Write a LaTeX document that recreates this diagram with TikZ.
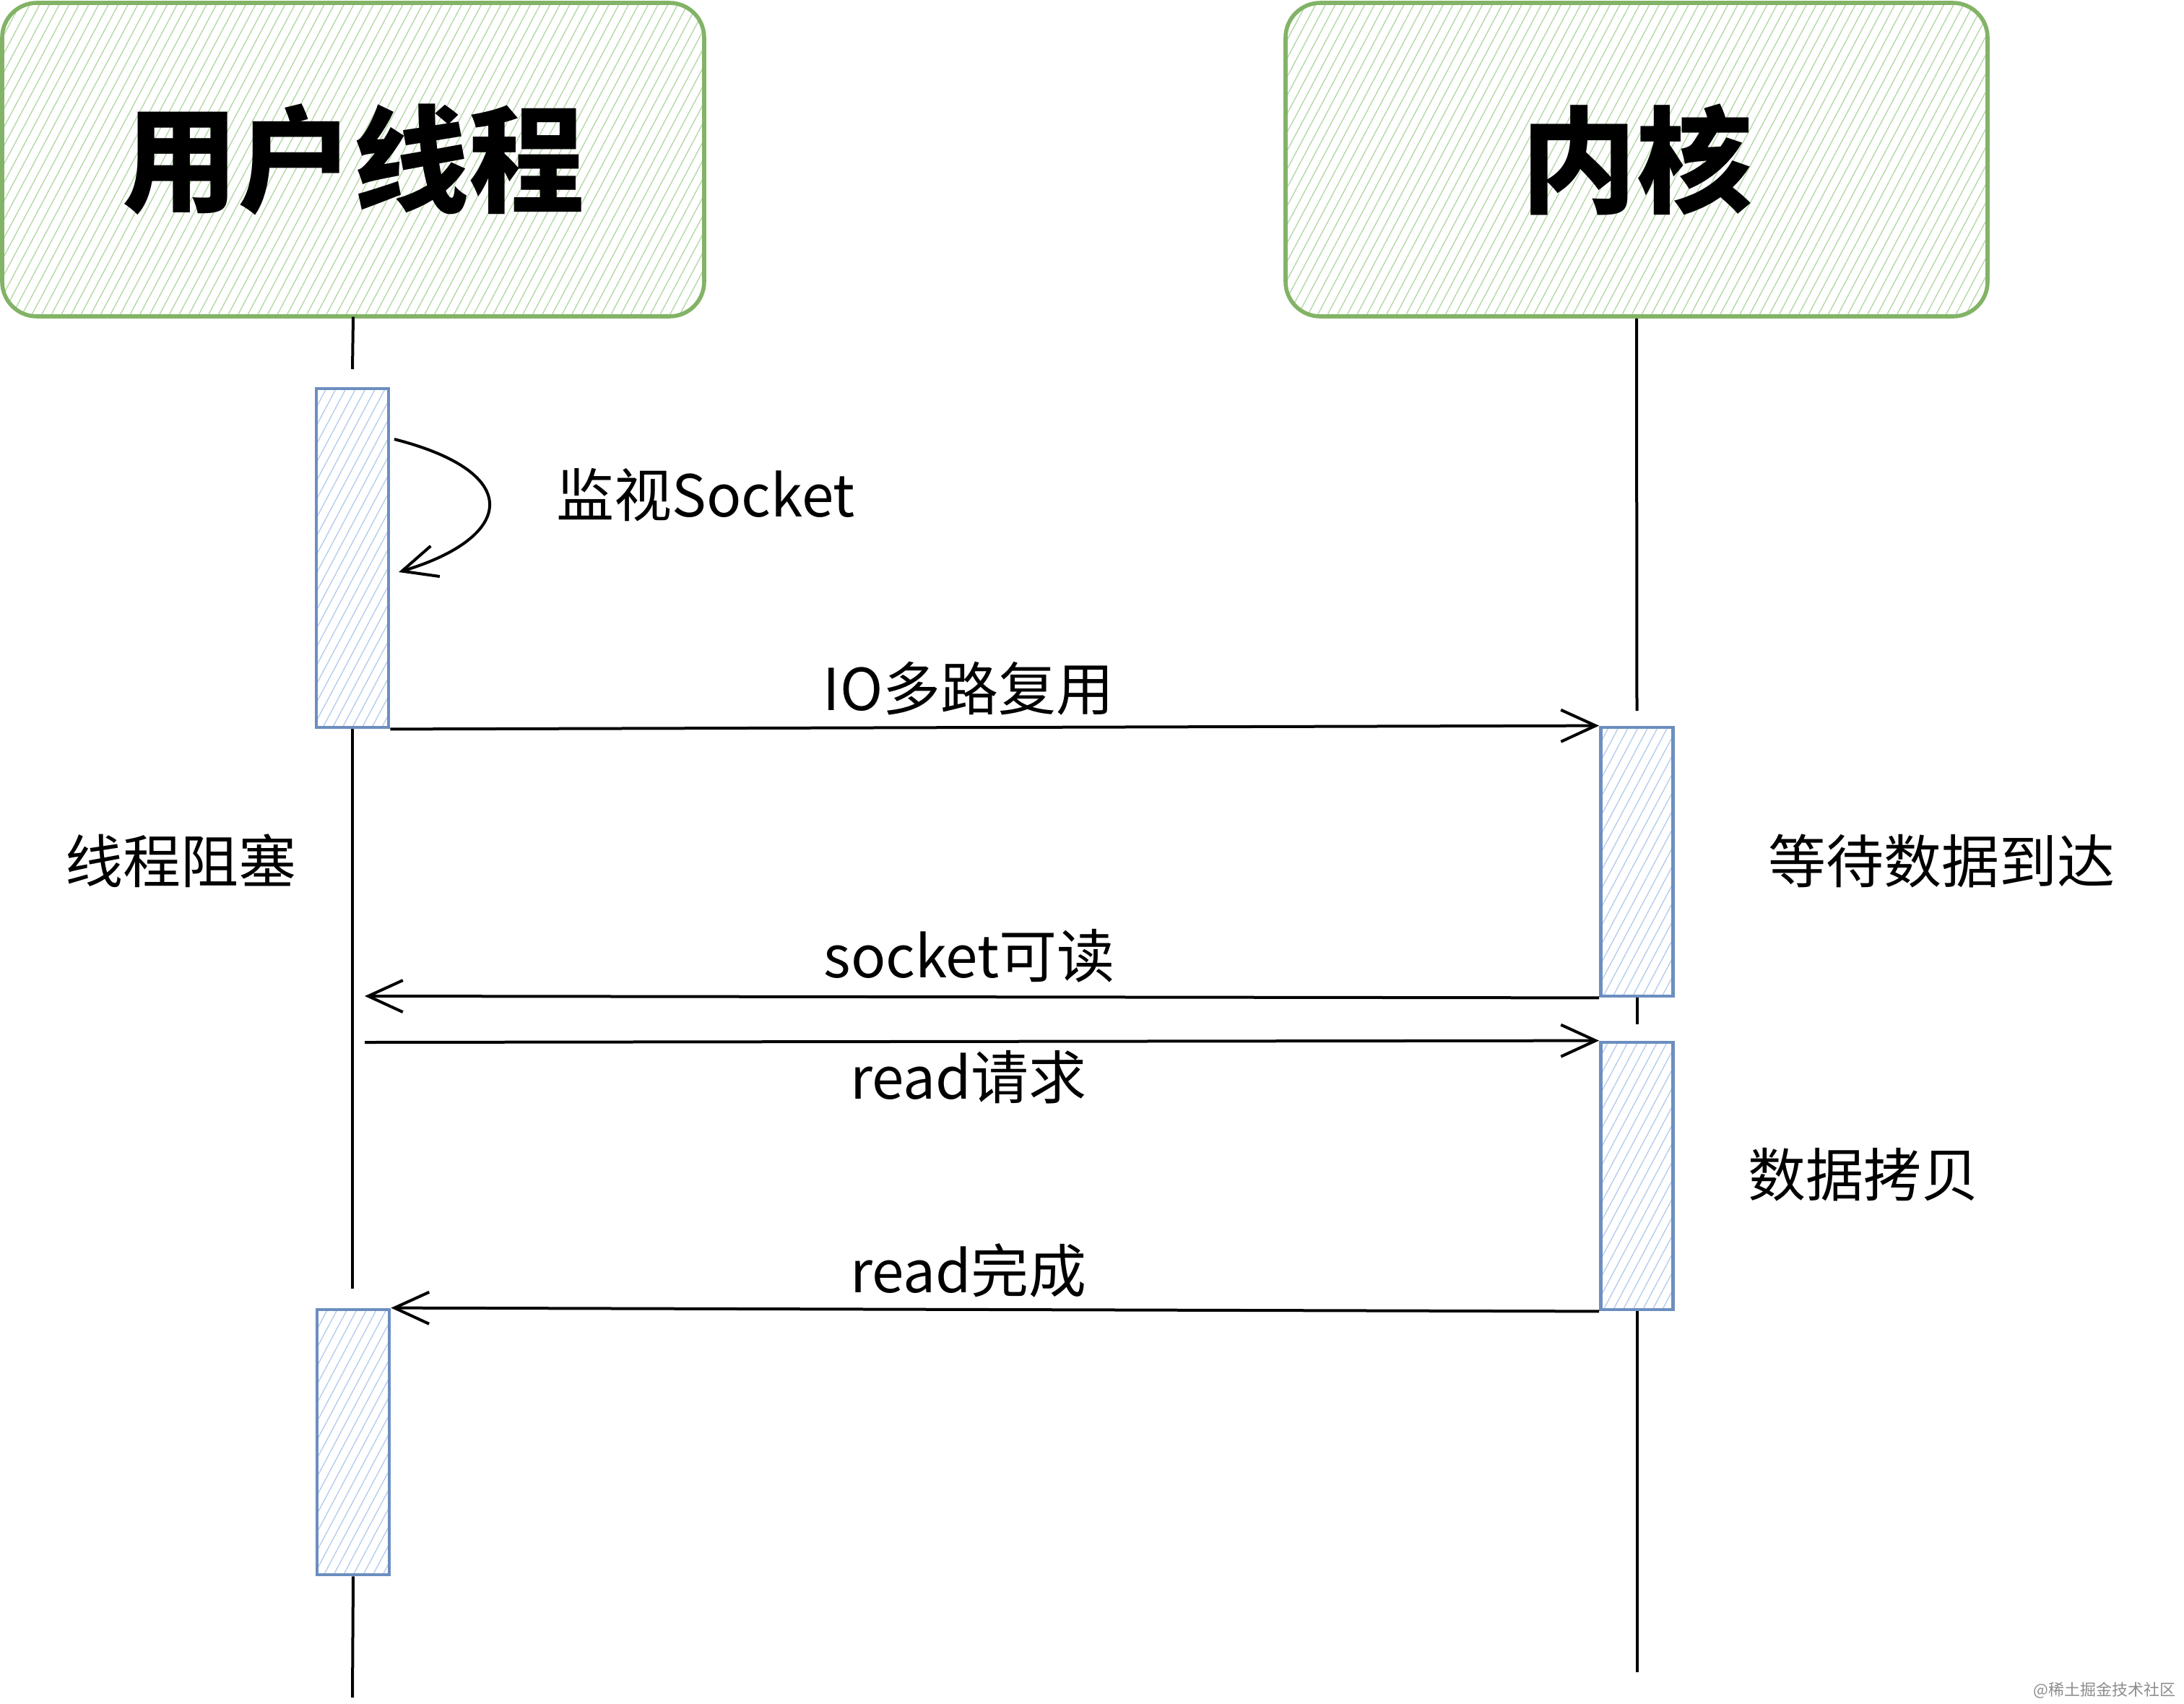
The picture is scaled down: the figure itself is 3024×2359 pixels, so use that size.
\documentclass[tikz,border=0pt]{standalone}
\usepackage{fontspec}
\setmainfont{Noto Sans CJK SC}
\usetikzlibrary{arrows.meta,patterns.meta}
\definecolor{gstroke}{HTML}{82B366}
\definecolor{gfill}{HTML}{B5D8A9}
\definecolor{bstroke}{HTML}{6C8EBF}
\definecolor{bfill}{HTML}{B7CDEC}
\begin{document}
\begin{tikzpicture}[x=0.25pt,y=-0.25pt,
  header/.style={draw=gstroke, line width=1.4pt, rounded corners=12pt,
    pattern={Lines[angle=62,distance=3pt,line width=0.35pt]}, pattern color=gfill,
    minimum width=243pt, minimum height=108.5pt, inner sep=0pt,
    font=\fontsize{40}{48}\selectfont\bfseries},
  act/.style={draw=bstroke, line width=1.2pt,
    pattern={Lines[angle=62,distance=3pt,line width=0.35pt]}, pattern color=bfill,
    minimum width=25pt, inner sep=0pt},
  life/.style={line width=1pt},
  msg/.style={line width=1pt, -{Straight Barb[length=12pt,width=11pt,line width=1pt]}},
  lbl/.style={font=\fontsize{20}{24}\selectfont, inner sep=0pt},
  wm/.style={font=\fontsize{5.5}{6.5}\selectfont, text=black!45, inner sep=0pt}
]
\useasboundingbox (0,0) rectangle (3024,2359);

% headers
\node[header] (hl) at (489,221) {用户线程};
\node[header] (hr) at (2266,221) {内核};

% activation boxes
\node[act, minimum height=117.25pt] (a1) at (488,772.5) {};
\node[act, minimum height=91.75pt] (a2) at (489,1996.5) {};
\node[act, minimum height=93pt] (k1) at (2266.5,1193) {};
\node[act, minimum height=92.5pt] (k2) at (2266.5,1628) {};

% lifeline ends
\coordinate (l1e) at (488,511);
\coordinate (l2e) at (488,1784);
\coordinate (l3e) at (488,2350);
\coordinate (r1e) at (2266.5,984);
\coordinate (r2e) at (2266.5,1418);
\coordinate (r3e) at (2266.5,2315);

\draw[life] (hl.south) -- (l1e);
\draw[life] (a1.south) -- (l2e);
\draw[life] (a2.south) -- (l3e);
\draw[life] (hr.south) -- (r1e);
\draw[life] (k1.south) -- (r2e);
\draw[life] (k2.south) -- (r3e);

% self loop
\coordinate (ls) at (546,608);
\coordinate (le) at (552,792);
\draw[msg] (ls) .. controls (730,655) and (710,745) .. (le);

% messages
\coordinate (sL) at (505,1379);
\coordinate (rL) at (505,1443);
\draw[msg] (a1.south east) -- (k1.north west);
\draw[msg] (k1.south west) -- (sL);
\draw[msg] (rL) -- (k2.north west);
\draw[msg] (k2.south west) -- (a2.north east);

% labels
\node[lbl] (t1) at (977,685) {监视Socket};
\node[lbl] (t2) at (1341,953) {IO多路复用};
\node[lbl] (t3) at (251,1192) {线程阻塞};
\node[lbl] (t4) at (2688,1192) {等待数据到达};
\node[lbl] (t5) at (1342,1323) {socket可读};
\node[lbl] (t6) at (1341,1491) {read请求};
\node[lbl] (t7) at (2580,1626) {数据拷贝};
\node[lbl] (t8) at (1341,1759) {read完成};
\node[wm, anchor=east] (w) at (3013,2340) {@稀土掘金技术社区};
\end{tikzpicture}
\end{document}
